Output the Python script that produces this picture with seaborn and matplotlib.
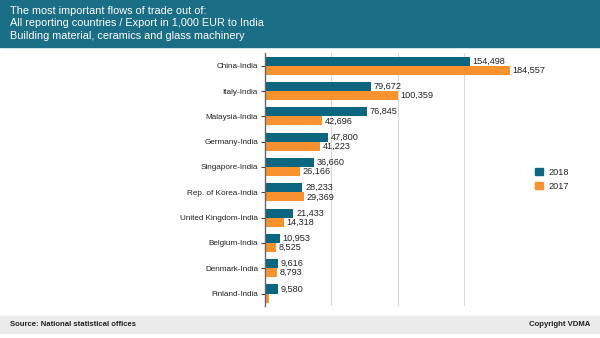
import matplotlib
matplotlib.use("Agg")
import matplotlib.pyplot as plt
import matplotlib.patches as mpatches
import seaborn as sns
import pandas as pd

categories = ["China-India", "Italy-India", "Malaysia-India", "Germany-India",
              "Singapore-India", "Rep. of Korea-India", "United Kingdom-India",
              "Belgium-India", "Denmark-India", "Finland-India"]
values_2018 = [154498, 79672, 76845, 47800, 36660, 28233, 21433, 10953, 9616, 9580]
values_2017 = [184557, 100359, 42696, 41223, 26166, 29369, 14318, 8525, 8793, 3100]
labels_2017_shown = [True, True, True, True, True, True, True, True, True, False]
years = ["2018", "2017"]

TEAL = "#0d6680"
ORANGE = "#f7922f"
HEADER = "#1a6e86"

df = pd.DataFrame({
    "country": categories * 2,
    "value": values_2018 + values_2017,
    "year": [years[0]] * len(categories) + [years[1]] * len(categories),
})

sns.set_style("white")
plt.rcParams['font.family'] = ['Liberation Sans', 'DejaVu Sans']

fig = plt.figure(figsize=(6, 3.38), dpi=100)
ax = fig.add_axes([0.4417, 0.094, 0.4416, 0.749])

sns.barplot(data=df, y="country", x="value", hue="year", orient="h",
            palette=[TEAL, ORANGE], width=0.72, ax=ax, legend=False,
            saturation=1, linewidth=0)

ax.set_xlim(0, 200000)
ax.set_xticks([50000, 100000, 150000])
ax.set_xticklabels([])
ax.tick_params(axis="x", length=0)
ax.xaxis.grid(True, color="#d9d9d9", linewidth=0.8)
ax.set_axisbelow(True)
ax.set_xlabel("")
ax.set_ylabel("")
for s in ["top", "right", "bottom"]:
    ax.spines[s].set_visible(False)
ax.spines["left"].set_color("#666666")
ax.spines["left"].set_linewidth(1.0)
ax.tick_params(axis="y", length=3, width=0.8, color="#444444", labelsize=5.9,
               labelcolor="#222222", pad=2, left=True)

lab18 = [f"{v:,}" for v in values_2018]
lab17 = [f"{v:,}" if show else "" for v, show in zip(values_2017, labels_2017_shown)]
ax.bar_label(ax.containers[0], labels=lab18, padding=2, fontsize=6.6, color="#222222")
ax.bar_label(ax.containers[1], labels=lab17, padding=2, fontsize=6.6, color="#222222")

handles = [mpatches.Patch(color=TEAL, label=years[0]),
           mpatches.Patch(color=ORANGE, label=years[1])]
fig.legend(handles=handles, loc="upper left", bbox_to_anchor=(0.885, 0.515),
           frameon=False, fontsize=6.6, handlelength=0.9, handleheight=0.9,
           handletextpad=0.6, labelspacing=0.55, borderaxespad=0)

# header band
fig.patches.append(mpatches.Rectangle((0, 1 - 47 / 338), 1, 47 / 338,
                                      transform=fig.transFigure, color=HEADER, zorder=0))
header_lines = ["The most important flows of trade out of:",
                "All reporting countries / Export in 1,000 EUR to India",
                "Building material, ceramics and glass machinery"]
for i, line in enumerate(header_lines):
    fig.text(10 / 600, 1 - (11 + i * 12.5) / 338, line, color="white",
             fontsize=7.8, va="center", ha="left")

# footer band
fig.patches.append(mpatches.Rectangle((0, 1 - 333 / 338), 1, 17 / 338,
                                      transform=fig.transFigure, color="#ebebeb", zorder=0))
fig.text(10 / 600, 1 - 325 / 338, "Source: National statistical offices",
         fontsize=5.6, fontweight="bold", color="#222222", va="center", ha="left")
fig.text(590 / 600, 1 - 325 / 338, "Copyright VDMA",
         fontsize=5.6, fontweight="bold", color="#222222", va="center", ha="right")

fig.savefig("out.png", dpi=100)
